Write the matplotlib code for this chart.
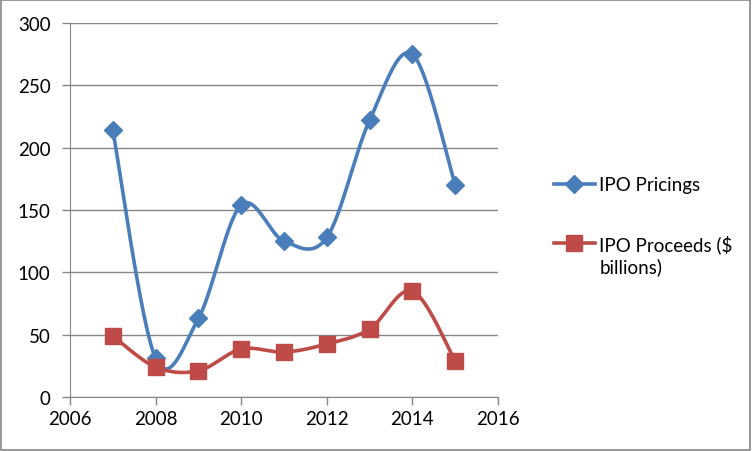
import numpy as np
import matplotlib
matplotlib.use("Agg")
import matplotlib.pyplot as plt
from matplotlib.lines import Line2D
from matplotlib.patches import Rectangle

years = [2007, 2008, 2009, 2010, 2011, 2012, 2013, 2014, 2015]
pricings = [214, 31, 63, 154, 125, 128, 222, 275, 170]
proceeds = [49, 24, 21, 38.5, 36, 42.5, 54.5, 85, 29]
labels = ["IPO Pricings", "IPO Proceeds ($", "billions)"]

blue = "#4A7EBB"
red = "#BE4B48"
grid = "#868686"

plt.rcParams['font.family'] = ['Lato', 'DejaVu Sans']


def smooth(x, y, n=40):
    # Excel-style smoothed line: Catmull-Rom segments drawn as cubic Beziers
    x = np.asarray(x, float)
    y = np.asarray(y, float)
    px = np.concatenate([[x[0]], x, [x[-1]]])
    py = np.concatenate([[y[0]], y, [y[-1]]])
    t = np.linspace(0, 1, n)[:, None]
    out = []
    for i in range(1, len(px) - 2):
        p0 = np.array([px[i], py[i]])
        p3 = np.array([px[i + 1], py[i + 1]])
        c1 = p0 + (np.array([px[i + 1], py[i + 1]]) - np.array([px[i - 1], py[i - 1]])) / 6
        c2 = p3 - (np.array([px[i + 2], py[i + 2]]) - np.array([px[i], py[i]])) / 6
        seg = ((1 - t) ** 3) * p0 + 3 * ((1 - t) ** 2) * t * c1 + 3 * (1 - t) * t ** 2 * c2 + t ** 3 * p3
        out.append(seg)
    seg = np.vstack(out)
    return seg[:, 0], seg[:, 1]


fig = plt.figure(figsize=(7.52, 4.52), dpi=100)
fig.patches.append(Rectangle((0.001, 0.002), 0.997, 0.995, transform=fig.transFigure,
                             fill=False, edgecolor=grid, linewidth=1.2))
ax = fig.add_axes([70 / 752, 54 / 452, 428 / 752, 374 / 452])

sx, sy = smooth(years, pricings)
ax.plot(sx, sy, color=blue, lw=2.6, solid_capstyle="round", zorder=3)
ax.plot(years, pricings, ls="none", marker="D", ms=9, color=blue, zorder=4)
sx, sy = smooth(years, proceeds)
ax.plot(sx, sy, color=red, lw=2.6, solid_capstyle="round", zorder=3)
ax.plot(years, proceeds, ls="none", marker="s", ms=12, color=red, zorder=4)

ax.set_xlim(2006, 2016)
ax.set_ylim(0, 300)
ax.set_xticks(range(2006, 2017, 2))
ax.set_yticks(range(0, 301, 50))
ax.grid(axis="y", color=grid, lw=1)
ax.set_axisbelow(True)
for s in ["top", "right"]:
    ax.spines[s].set_visible(False)
for s in ["left", "bottom"]:
    ax.spines[s].set_color(grid)
ax.tick_params(axis="both", colors=grid, labelcolor="black", labelsize=13.5, length=6, width=1)
ax.tick_params(axis="y", pad=8)

handles = [
    Line2D([], [], color=blue, lw=2.6, marker="D", ms=9),
    Line2D([], [], color=red, lw=2.6, marker="s", ms=12),
]
leg = fig.legend(handles, labels[:2], loc="upper left", bbox_to_anchor=(546 / 752, 1 - 170 / 452),
                 frameon=False, fontsize=13.5, handlelength=2.2, labelspacing=2.15,
                 handletextpad=0.25, borderaxespad=0)
fig.canvas.draw()
# second line of the wrapped legend label, placed under the first line
t2 = leg.get_texts()[1]
bb = t2.get_window_extent()
fig.text(bb.x0 / fig.bbox.width, (bb.y0 - 23) / fig.bbox.height, labels[2],
         fontsize=13.5, va="bottom", ha="left")

fig.savefig("out.png", dpi=100)
